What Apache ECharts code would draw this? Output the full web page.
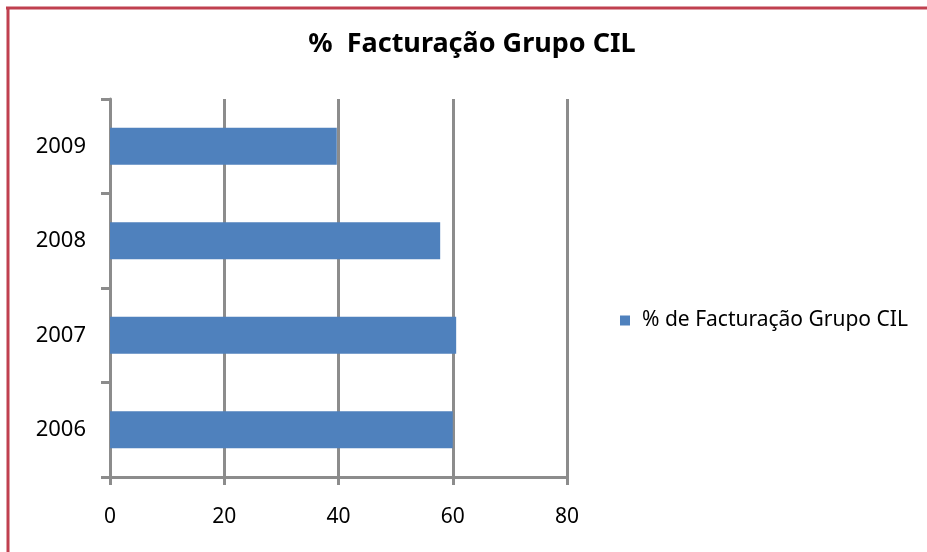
<!DOCTYPE html>
<html>
<head>
<meta charset="utf-8">
<script src="https://cdn.jsdelivr.net/npm/echarts@6/dist/echarts.min.js"></script>
<style>
  html, body { margin: 0; padding: 0; background: #fff; }
  #chart { width: 927px; height: 552px; }
</style>
</head>
<body>
<div id="chart"></div>
<script>
// anos (de baixo para cima) e % de facturação
const years = ['2006', '2007', '2008', '2009']
const facturacao = [60.0, 60.6, 57.8, 39.7]
const xTicks = [0, 20, 40, 60, 80]

const gridColor = '#8c8c8c'
const fontFamily = '"Noto Sans", sans-serif'

const chart = echarts.init(document.getElementById('chart'))
chart.setOption({
  animation: false,
  title: {
    text: '%  Facturação Grupo CIL',
    left: 467,
    top: 26,
    textAlign: 'center',
    textStyle: {
      color: '#000',
      fontFamily: fontFamily,
      fontWeight: 'bold',
      fontSize: 27
    }
  },
  legend: {
    left: 615,
    top: 305,
    icon: 'rect',
    itemWidth: 10,
    itemHeight: 10,
    textStyle: {
      color: '#000',
      fontFamily: fontFamily,
      fontSize: 21,
      padding: [0, 0, 0, 7]
    },
    data: ['% de Facturação Grupo CIL']
  },
  grid: {
    left: 110,
    right: 360,
    top: 99,
    bottom: 75
  },
  xAxis: {
    type: 'value',
    min: xTicks[0],
    max: xTicks[xTicks.length - 1],
    interval: 20,
    axisLine: { show: true, lineStyle: { color: gridColor, width: 3 } },
    axisTick: { show: true, length: 8, lineStyle: { color: gridColor, width: 3 } },
    splitLine: { show: true, lineStyle: { color: gridColor, width: 3 } },
    axisLabel: {
      margin: 30,
      color: '#000',
      fontFamily: fontFamily,
      fontSize: 21
    }
  },
  yAxis: {
    type: 'category',
    data: years,
    axisLine: { show: true, lineStyle: { color: gridColor, width: 3 } },
    axisTick: { show: true, length: 9, lineStyle: { color: gridColor, width: 3 } },
    axisLabel: {
      margin: 24,
      color: '#000',
      fontFamily: fontFamily,
      fontSize: 22
    }
  },
  // moldura vermelha (topo e esquerda)
  graphic: [
    { type: 'line', shape: { x1: 6, y1: 8, x2: 927, y2: 8 }, style: { stroke: '#c0404f', lineWidth: 3 } },
    { type: 'line', shape: { x1: 8, y1: 7, x2: 8, y2: 552 }, style: { stroke: '#c0404f', lineWidth: 3 } }
  ],
  series: [{
    name: '% de Facturação Grupo CIL',
    type: 'bar',
    data: facturacao,
    barWidth: 37,
    itemStyle: { color: '#4f81bd' }
  }]
})
</script>
</body>
</html>
